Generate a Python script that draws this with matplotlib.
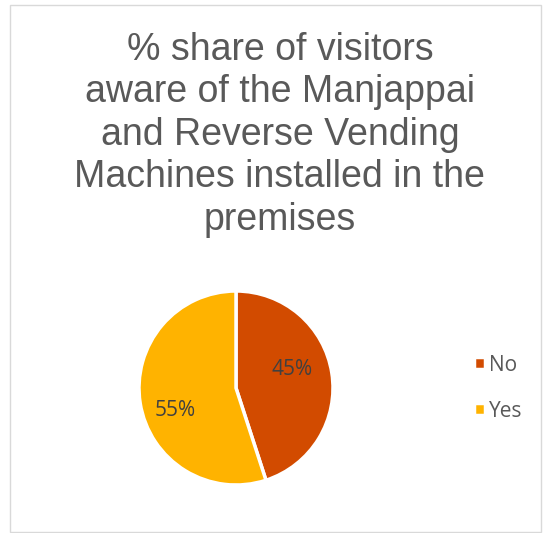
import matplotlib.pyplot as plt
from matplotlib.patches import Rectangle

labels = ['No', 'Yes']
shares = [45, 55]
colors = ['#D24B00', '#FFB300']
title = '% share of visitors\naware of the Manjappai\nand Reverse Vending\nMachines installed in the\npremises'

# where the percentage text sits inside each slice (fractions of radius)
label_pos = [(0.58, 0.19), (-0.63, -0.23)]

fig = plt.figure(figsize=(5.51, 5.33), dpi=100)

# light frame round the chart area
fig.patches.append(Rectangle((10 / 551, 1 / 533), 531 / 551, 527 / 533,
                             transform=fig.transFigure, fill=False,
                             edgecolor='#d9d9d9', linewidth=1))

fig.text(0.508, 0.94, title, ha='center', va='top', fontsize=27,
         color='#595959', family='Liberation Sans', linespacing=1.23)

ax = fig.add_axes([(236 - 97) / 551, 1 - (388 + 97) / 533, 194 / 551, 194 / 533])
wedges, texts, autotexts = ax.pie(
    shares, colors=colors, startangle=90, counterclock=False,
    autopct='%d%%', pctdistance=0.63,
    wedgeprops=dict(edgecolor='white', linewidth=2.5),
    textprops=dict(color='#404040', fontsize=15, family='Open Sans'))
for t, pos in zip(autotexts, label_pos):
    t.set_position(pos)
ax.set_xlim(-1, 1)
ax.set_ylim(-1, 1)
ax.set_aspect('equal')

fig.legend(wedges, labels, loc='center left', bbox_to_anchor=(0.826, 0.272),
           frameon=False, handlelength=0.55, handleheight=0.55,
           labelspacing=1.2, handletextpad=0.18,
           prop=dict(family='Open Sans', size=15), labelcolor='#595959')

fig.savefig('out.png', dpi=100)
